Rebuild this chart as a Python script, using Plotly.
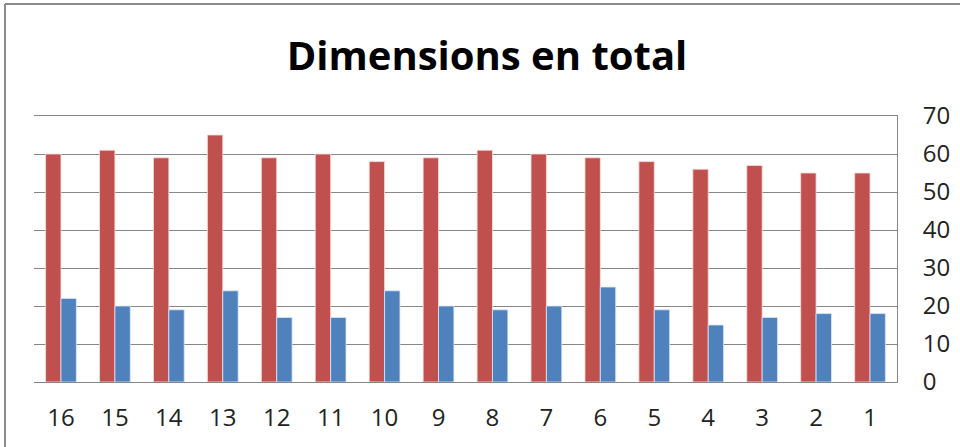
import plotly.graph_objects as go

categories = ["16", "15", "14", "13", "12", "11", "10", "9", "8", "7", "6", "5", "4", "3", "2", "1"]
red_values = [60, 61, 59, 65, 59, 60, 58, 59, 61, 60, 59, 58, 56, 57, 55, 55]
blue_values = [22, 20, 19, 24, 17, 17, 24, 20, 19, 20, 25, 19, 15, 17, 18, 18]
y_ticks = [0, 10, 20, 30, 40, 50, 60, 70]
title_text = "Dimensions en total"

RED = "#C0504D"
BLUE = "#4F81BD"
GRID = "#878787"
FONT = "Open Sans"

fig = go.Figure()
fig.add_trace(go.Bar(x=categories, y=red_values, marker=dict(color=RED, line=dict(color="rgba(255,220,220,0.8)", width=1)), name="A"))
fig.add_trace(go.Bar(x=categories, y=blue_values, marker=dict(color=BLUE, line=dict(color="rgba(220,230,255,0.8)", width=1)), name="B"))

W, H = 960, 447
L, R, T, B = 34, 897, 116, 382
fig.update_layout(
    width=W, height=H,
    margin=dict(l=L, r=W - R, t=T, b=H - B, pad=0, autoexpand=False),
    paper_bgcolor="white", plot_bgcolor="white",
    showlegend=False,
    barmode="group", bargap=0.43, bargroupgap=0,
    title=dict(text=title_text, x=487 / W, xref="container", xanchor="center",
               y=1 - 56 / H, yref="container", yanchor="middle",
               font=dict(family=FONT, size=40, color="black", weight="bold")),
    font=dict(family=FONT, color="#222222"),
)
fig.update_xaxes(automargin=False, showgrid=False, showline=True, mirror=True, linecolor=GRID, linewidth=1, ticks="",
                 tickfont=dict(size=24, family=FONT, color="#222222"), ticklabelstandoff=14)
fig.update_yaxes(automargin=False, side="right", range=[0, 70], tickvals=y_ticks, showgrid=True, gridcolor=GRID, gridwidth=1,
                 showline=True, linecolor=GRID, linewidth=1, ticks="", zeroline=False,
                 tickfont=dict(size=24, family=FONT, color="#222222"), ticklabelstandoff=20)

pw, ph = R - L, B - T
bx = (5 - L) / pw
by = (B - 4) / ph
fig.add_shape(type="line", xref="paper", yref="paper", x0=bx, x1=bx, y0=-0.5, y1=by,
              line=dict(color="#8A8A8A", width=2))
fig.add_shape(type="line", xref="paper", yref="paper", x0=bx, x1=1.2, y0=by, y1=by,
              line=dict(color="#8A8A8A", width=2))

fig.write_html("out.html")
